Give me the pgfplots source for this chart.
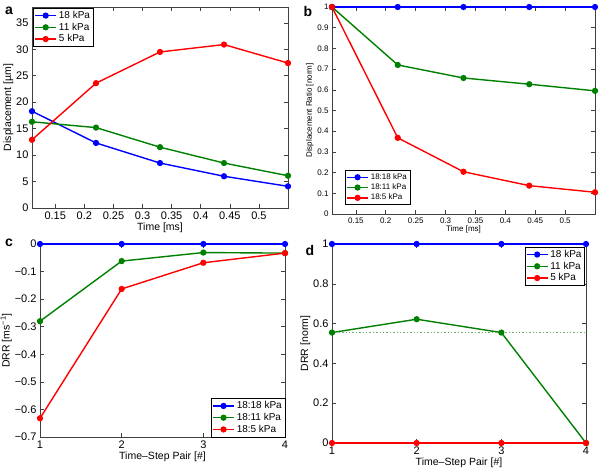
\documentclass[border=0pt]{standalone}
\usepackage{pgfplots}
\pgfplotsset{compat=1.18}
\usepackage{fontspec}
\setmainfont{Liberation Sans}
\definecolor{mblue}{rgb}{0,0,1}
\definecolor{mgreen}{rgb}{0,0.5,0}
\definecolor{mred}{rgb}{1,0,0}
\begin{document}
\begin{tikzpicture}
\path[use as bounding box] (0pt,0pt) rectangle (602pt,-471pt);
\pgfplotsset{
  mystyle/.style={scale only axis, clip=false,
    axis line style={black!75, line width=0.6pt},
    tick style={black!75, line width=0.6pt},
    major tick length=4pt,
    /pgf/number format/assume math mode=true,
    legend cell align=left,
    legend style={draw=black, inner sep=1pt, row sep=-1pt},
    legend image code/.code={\draw[line width=1.4pt, mark repeat=2,mark phase=2] plot coordinates {(0cm,0cm) (0.37cm,0cm) (0.74cm,0cm)};},
    every axis plot/.append style={line width=1.4pt, mark=*, mark size=2.4pt},
  },
  bigfont/.style={tick label style={font=\fontsize{11}{12}\selectfont},
    label style={font=\fontsize{10.5}{12}\selectfont},
    legend style={font=\fontsize{10}{11}\selectfont}},
  smallfont/.style={tick label style={font=\fontsize{8}{9}\selectfont},
    label style={font=\fontsize{8}{9}\selectfont},
    legend style={font=\fontsize{8}{9}\selectfont}},
}
% panel a
\begin{axis}[mystyle, bigfont, at={(32pt,-7pt)}, anchor=north west, width=256pt, height=201pt,
  xmin=0.11, xmax=0.55, ymin=0, ymax=38,
  xtick={0.15,0.2,0.25,0.3,0.35,0.4,0.45,0.5},
  xticklabels={0.15,0.2,0.25,0.3,0.35,0.4,0.45,0.5},
  ytick={0,5,10,15,20,25,30,35},
  xlabel={Time [ms]}, ylabel={Displacement [µm]},
  xlabel style={yshift=3pt}, ylabel style={yshift=-4pt},
  legend style={at={(0.005,0.995)}, anchor=north west}]
\addplot[mblue, mark options={fill=mblue}] coordinates {(0.11,18.3) (0.22,12.3) (0.33,8.5) (0.44,6.0) (0.55,4.1)};
\addplot[mgreen, mark options={fill=mgreen}] coordinates {(0.11,16.3) (0.22,15.2) (0.33,11.5) (0.44,8.5) (0.55,6.1)};
\addplot[mred, mark options={fill=mred}] coordinates {(0.11,12.9) (0.22,23.6) (0.33,29.5) (0.44,30.9) (0.55,27.4)};
\legend{18 kPa, 11 kPa, 5 kPa}
\end{axis}
\node[font=\bfseries\fontsize{14}{14}\selectfont] at (9pt,-11pt) {a};
% panel b
\begin{axis}[mystyle, smallfont, at={(332pt,-7pt)}, anchor=north west, width=263pt, height=207pt,
  xmin=0.11, xmax=0.55, ymin=0, ymax=1,
  xtick={0.15,0.2,0.25,0.3,0.35,0.4,0.45,0.5},
  xticklabels={0.15,0.2,0.25,0.3,0.35,0.4,0.45,0.5},
  ytick={0,0.1,0.2,0.3,0.4,0.5,0.6,0.7,0.8,0.9,1},
  yticklabels={0,0.1,0.2,0.3,0.4,0.5,0.6,0.7,0.8,0.9,1},
  xlabel={Time [ms]}, ylabel={Displacement Ratio [norm]},
  xlabel style={yshift=4pt}, ylabel style={yshift=-3pt},
  legend style={at={(0.05,0.045)}, anchor=south west}]
\addplot[mblue, mark options={fill=mblue}] coordinates {(0.11,1) (0.22,1) (0.33,1) (0.44,1) (0.55,1)};
\addplot[mgreen, mark options={fill=mgreen}] coordinates {(0.11,1) (0.22,0.72) (0.33,0.657) (0.44,0.627) (0.55,0.595)};
\addplot[mred, mark options={fill=mred}] coordinates {(0.11,1) (0.22,0.368) (0.33,0.204) (0.44,0.137) (0.55,0.105)};
\legend{18:18 kPa, 18:11 kPa, 18:5 kPa}
\end{axis}
\node[font=\bfseries\fontsize{14}{14}\selectfont] at (308pt,-11pt) {b};
% panel c
\begin{axis}[mystyle, bigfont, at={(40pt,-244pt)}, anchor=north west, width=245pt, height=193pt,
  xmin=1, xmax=4, ymin=-0.7, ymax=0,
  xtick={1,2,3,4},
  ytick={-0.7,-0.6,-0.5,-0.4,-0.3,-0.2,-0.1,0},
  yticklabels={−0.7,−0.6,−0.5,−0.4,−0.3,−0.2,−0.1,0},
  xlabel={Time–Step Pair [\#]}, ylabel={DRR [ms\textsuperscript{−1}]},
  xlabel style={yshift=3pt}, ylabel style={yshift=-4pt},
  legend style={at={(1,0)}, anchor=south east}]
\addplot[mblue, mark options={fill=mblue}] coordinates {(1,0) (2,0) (3,0) (4,0)};
\addplot[mgreen, mark options={fill=mgreen}] coordinates {(1,-0.28) (2,-0.062) (3,-0.031) (4,-0.033)};
\addplot[mred, mark options={fill=mred}] coordinates {(1,-0.632) (2,-0.163) (3,-0.068) (4,-0.033)};
\legend{18:18 kPa, 18:11 kPa, 18:5 kPa}
\end{axis}
\node[font=\bfseries\fontsize{14}{14}\selectfont] at (9pt,-243pt) {c};
% panel d
\begin{axis}[mystyle, bigfont, at={(332pt,-244pt)}, anchor=north west, width=254pt, height=199pt,
  xmin=1, xmax=4, ymin=0, ymax=1,
  xtick={1,2,3,4},
  ytick={0,0.2,0.4,0.6,0.8,1},
  yticklabels={0,0.2,0.4,0.6,0.8,1},
  xlabel={Time–Step Pair [\#]}, ylabel={DRR [norm]},
  xlabel style={yshift=3pt}, ylabel style={yshift=-4pt},
  legend style={at={(0.995,0.985)}, anchor=north east}]
\addplot[mblue, mark options={fill=mblue}] coordinates {(1,1) (2,1) (3,1) (4,1)};
\addplot[mgreen, mark options={fill=mgreen}] coordinates {(1,0.555) (2,0.622) (3,0.555) (4,0.0)};
\addplot[mred, mark options={fill=mred}] coordinates {(1,0) (2,0) (3,0) (4,0)};
\addplot[mgreen!60, dotted, line width=0.8pt, mark=none, forget plot] coordinates {(1,0.555) (4,0.555)};
\legend{18 kPa, 11 kPa, 5 kPa}
\end{axis}
\node[font=\bfseries\fontsize{14}{14}\selectfont] at (310pt,-250pt) {d};
\end{tikzpicture}
\end{document}
